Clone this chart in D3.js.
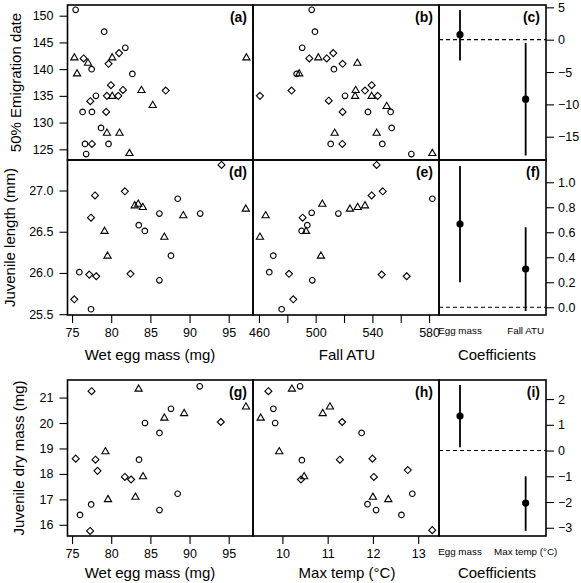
<!DOCTYPE html>
<html><head><meta charset="utf-8">
<script src="https://cdn.jsdelivr.net/npm/d3@7"></script>
<style>
body{margin:0;background:#fff;}
text{font-family:"Liberation Sans",Arial,Helvetica,sans-serif;fill:#000;}
</style></head><body>
<svg id="chart" width="581" height="583"></svg>
<script>
// ---------- DATA ----------
// (a) Wet egg mass vs 50% emigration date
const aCircle = [[75.46,151.1],[79.1,147.0],[81.8,144.0],[82.7,139.1],[77.5,140.0],[78.05,135.0],[76.35,132.0],[77.54,132.0],[78.7,129.0],[76.65,126.0],[79.66,126.0],[76.8,124.1]];
const aDiamond = [[76.48,142.0],[79.66,141.0],[81.0,143.0],[79.96,137.0],[81.5,136.1],[77.33,134.0],[79.45,135.0],[80.9,135.0],[79.36,132.0],[77.54,126.0],[86.96,136.0]];
const aTriangle = [[75.3,142.2],[75.64,139.2],[77.04,141.2],[80.13,142.2],[80.13,135.0],[83.86,136.1],[85.3,133.3],[79.45,128.1],[81.06,128.1],[82.33,124.3],[97.26,142.2]];
// (b) Fall ATU vs 50% emigration date
const bCircle = [[497.2,151.1],[499.5,147.0],[490.5,144.0],[512.9,140.0],[486.6,139.1],[520.7,135.0],[536.9,132.0],[552.9,132.0],[553.6,129.0],[510.6,126.0],[547.0,126.0],[567.5,124.1]];
const bDiamond = [[495.5,142.0],[507.8,142.0],[512.4,143.0],[519.0,141.0],[460.7,135.0],[483.0,136.0],[509.2,134.1],[519.0,132.0],[534.8,136.0],[539.5,137.0],[543.8,135.0],[518.8,126.0]];
const bTriangle = [[501.9,142.2],[488.4,139.2],[529.4,141.2],[528.2,136.1],[527.8,135.0],[539.5,135.0],[550.1,133.1],[513.4,128.1],[543.0,128.1],[582.3,124.3]];
// (c) coefficients
const cCats = ["Egg mass","Fall ATU"];
const cEst = [0.77,-9.2];
const cLo = [-3.2,-17.9];
const cHi = [4.6,-0.5];
// (d) Wet egg mass vs juvenile length
const dCircle = [[75.93,26.01],[77.42,25.56],[83.52,26.58],[84.29,26.51],[86.15,26.72],[88.49,26.90],[91.36,26.72],[87.63,26.21],[86.15,25.91]];
const dDiamond = [[94.08,27.31],[77.93,26.94],[77.42,26.67],[81.74,26.99],[82.46,25.99],[77.2,25.98],[78.09,25.96],[75.29,25.68]];
const dTriangle = [[83.0,26.82],[83.45,26.84],[84.03,26.80],[79.15,26.51],[79.53,26.21],[86.78,26.44],[89.2,26.70],[97.18,26.78]];
// (e) Fall ATU vs juvenile length
const eCircle = [[582.3,26.90],[497.2,26.73],[494.1,26.58],[490.1,26.51],[516.0,26.72],[470.1,26.21],[467.3,26.01],[497.6,25.91],[476.0,25.56]];
const eDiamond = [[543.0,27.31],[547.3,26.99],[539.5,26.94],[490.8,26.67],[481.2,25.99],[546.6,25.98],[564.2,25.96],[484.2,25.68]];
const eTriangle = [[464.7,26.70],[460.7,26.44],[504.7,26.84],[524.2,26.78],[529.6,26.80],[534.8,26.82],[493.2,26.51],[503.7,26.21]];
// (f) coefficients
const fCats = ["Egg mass","Fall ATU"];
const fEst = [0.666,0.306];
const fLo = [0.2,-0.03];
const fHi = [1.13,0.64];
// (g) Wet egg mass vs juvenile dry mass
const gCircle = [[91.3,21.44],[87.63,20.56],[84.31,20.0],[86.16,19.61],[83.55,18.56],[88.48,17.22],[86.16,16.58],[77.44,16.80],[76.01,16.39]];
const gDiamond = [[77.49,21.25],[75.47,18.60],[77.99,18.56],[78.25,18.12],[81.74,17.88],[82.54,17.78],[93.99,20.04],[77.31,15.76]];
const gTriangle = [[83.5,21.35],[86.79,20.21],[89.31,20.39],[97.2,20.65],[79.26,18.89],[84.06,17.91],[79.59,17.01],[83.09,17.10]];
// (h) Max temp vs juvenile dry mass
const hCircle = [[10.39,21.44],[9.80,20.56],[9.84,20.0],[11.75,19.61],[10.43,18.54],[12.87,17.22],[11.88,16.81],[12.07,16.58],[12.63,16.39]];
const hDiamond = [[9.69,21.25],[11.32,20.04],[11.27,18.56],[11.99,18.60],[12.77,18.15],[12.02,17.88],[10.41,17.78],[13.31,15.79]];
const hTriangle = [[10.21,21.35],[9.52,20.21],[10.89,20.39],[11.05,20.65],[9.93,18.89],[10.48,17.91],[12.0,17.10],[12.34,17.01]];
// (i) coefficients
const iCats = ["Egg mass","Max temp (°C)"];
const iEst = [1.34,-2.04];
const iLo = [0.13,-3.12];
const iHi = [2.55,-1.0];
// tick values
const wetTicks = [75,80,85,90,95];
const atuTicks = [460,480,500,520,540,560,580];
const atuLabels = [460,500,540,580];
const tempTicks = [10,11,12,13];
const emigTicks = [125,130,135,140,145,150];
const lenTicks = [25.5,26.0,26.5,27.0];
const dryTicks = [16,17,18,19,20,21];
const cTicks = [5,0,-5,-10,-15];
const fTicks = [0,0.2,0.4,0.6,0.8,1.0];
const iTicks = [2,1,0,-1,-2,-3];

// ---------- LAYOUT ----------
const X0=67.5, X1=253, X2=439, X3=546;
const R1=[5,160], R2=[160,315], R3=[380,536];
const svg = d3.select("#chart");
svg.append("rect").attr("width",581).attr("height",583).attr("fill","#fff");

const xWet = d3.scaleLinear().domain([74.42,98.1]).range([X0,X1]);
const xATU = d3.scaleLinear().domain([455.8,587]).range([X1,X2]);
const xTemp = d3.scaleLinear().domain([9.35,13.46]).range([X1,X2]);
const xCoef = d3.scaleLinear().domain([0.68,2.31]).range([X2,X3]);
const yEmig = d3.scaleLinear().domain([123,152]).range([R1[1],R1[0]]);
const yLen = d3.scaleLinear().domain([25.49,27.37]).range([R2[1],R2[0]]);
const yDry = d3.scaleLinear().domain([15.56,21.69]).range([R3[1],R3[0]]);
const yC = d3.scaleLinear().domain([-18.6,5.36]).range([R1[1],R1[0]]);
const yF = d3.scaleLinear().domain([-0.062,1.178]).range([R2[1],R2[0]]);
const yI = d3.scaleLinear().domain([-3.32,2.74]).range([R3[1],R3[0]]);

const shapes = {
  circle: "M2.8,0A2.8,2.8,0,1,1,-2.8,0A2.8,2.8,0,1,1,2.8,0Z",
  diamond: "M0,-3.5L3.5,0L0,3.5L-3.5,0Z",
  triangle: "M0,-3.7L3.6,2.5L-3.6,2.5Z"
};
function pts(data, shape, xs, ys){
  svg.append("g").selectAll("path").data(data).join("path")
    .attr("d", shapes[shape])
    .attr("transform", d=>`translate(${xs(d[0])},${ys(d[1])})`)
    .attr("fill","none").attr("stroke","#000").attr("stroke-width",1.1);
}
function frame(xs, ys){
  const [a,b]=xs.range(), [c,d]=ys.range();
  svg.append("rect").attr("x",a).attr("y",d).attr("width",b-a).attr("height",c-d)
    .attr("fill","none").attr("stroke","#000").attr("stroke-width",1.6);
}
function label(txt, xs, ys, dx){
  svg.append("text").attr("x",xs.range()[1]-(dx||6)).attr("y",ys.range()[1]+17)
    .attr("text-anchor","end").attr("font-weight","bold").attr("font-size",14).text(txt);
}
function leftAxis(ys, ticks, fmt){
  const g = svg.append("g").attr("transform",`translate(${X0},0)`)
    .call(d3.axisLeft(ys).tickValues(ticks).tickFormat(fmt).tickSize(8).tickPadding(6));
  g.select(".domain").remove();
  g.selectAll("line").attr("stroke-width",1.1);
  g.selectAll("text").attr("font-size",12.5).attr("font-family","Liberation Sans, Arial, sans-serif");
}
function rightAxis(ys, ticks, fmt){
  const g = svg.append("g").attr("transform",`translate(${X3},0)`)
    .call(d3.axisRight(ys).tickValues(ticks).tickFormat(fmt).tickSize(8).tickPadding(4));
  g.select(".domain").remove();
  g.selectAll("line").attr("stroke-width",1.1);
  g.selectAll("text").attr("font-size",12.5).attr("font-family","Liberation Sans, Arial, sans-serif");
}
function bottomAxis(xs, ticks, y, labelsOnly){
  const g = svg.append("g").attr("transform",`translate(0,${y})`)
    .call(d3.axisBottom(xs).tickValues(ticks)
      .tickFormat(v => (!labelsOnly || labelsOnly.includes(v)) ? d3.format("d")(v) : "")
      .tickSize(8).tickPadding(5));
  g.select(".domain").remove();
  g.selectAll("line").attr("stroke-width",1.1);
  g.selectAll("text").attr("font-size",12.5).attr("font-family","Liberation Sans, Arial, sans-serif");
}
const minusFmt = v => (v<0 ? "\u2212"+Math.abs(v) : String(v));
function coef(cats, est, lo, hi, ys, labY){
  svg.append("line").attr("x1",X2).attr("x2",X3).attr("y1",ys(0)).attr("y2",ys(0))
    .attr("stroke","#000").attr("stroke-width",1.1).attr("stroke-dasharray","4,3");
  const idx = cats.map((c,i)=>i);
  svg.append("g").selectAll("line").data(idx).join("line")
    .attr("x1",i=>xCoef(i+1)).attr("x2",i=>xCoef(i+1))
    .attr("y1",i=>ys(lo[i])).attr("y2",i=>ys(hi[i]))
    .attr("stroke","#000").attr("stroke-width",1.8);
  svg.append("g").selectAll("circle").data(idx).join("circle")
    .attr("cx",i=>xCoef(i+1)).attr("cy",i=>ys(est[i])).attr("r",3.6).attr("fill","#000");
  if(labY != null){
    svg.append("g").selectAll("text").data(idx).join("text")
      .attr("x",i=>xCoef(i+1)).attr("y",labY).attr("text-anchor","middle")
      .attr("font-size",9.8).text(i=>cats[i]);
  }
}
function title(txt, x, y, rot){
  const t = svg.append("text").attr("font-size",15).attr("text-anchor","middle").text(txt);
  if(rot) t.attr("transform",`translate(${x},${y}) rotate(-90)`);
  else t.attr("x",x).attr("y",y);
}

// ---------- ROW 1 ----------
pts(aCircle,"circle",xWet,yEmig); pts(aDiamond,"diamond",xWet,yEmig); pts(aTriangle,"triangle",xWet,yEmig);
pts(bCircle,"circle",xATU,yEmig); pts(bDiamond,"diamond",xATU,yEmig); pts(bTriangle,"triangle",xATU,yEmig);
coef(cCats,cEst,cLo,cHi,yC,null);
frame(xWet,yEmig); frame(xATU,yEmig); frame(xCoef,yC);
leftAxis(yEmig, emigTicks, d3.format("d"));
rightAxis(yC, cTicks, minusFmt);
label("(a)",xWet,yEmig); label("(b)",xATU,yEmig); label("(c)",xCoef,yC);
title("50% Emigration date", 21, 82.5, true);

// ---------- ROW 2 ----------
pts(dCircle,"circle",xWet,yLen); pts(dDiamond,"diamond",xWet,yLen); pts(dTriangle,"triangle",xWet,yLen);
pts(eCircle,"circle",xATU,yLen); pts(eDiamond,"diamond",xATU,yLen); pts(eTriangle,"triangle",xATU,yLen);
coef(fCats,fEst,fLo,fHi,yF,334);
frame(xWet,yLen); frame(xATU,yLen); frame(xCoef,yF);
leftAxis(yLen, lenTicks, d3.format(".1f"));
rightAxis(yF, fTicks, d3.format(".1f"));
bottomAxis(xWet, wetTicks, R2[1]);
bottomAxis(xATU, atuTicks, R2[1], atuLabels);
label("(d)",xWet,yLen); label("(e)",xATU,yLen); label("(f)",xCoef,yF);
title("Juvenile length (mm)", 15, 237.5, true);
title("Wet egg mass (mg)", 150, 360);
title("Fall ATU", 347, 360);
title("Coefficients", 497, 360);

// ---------- ROW 3 ----------
pts(gCircle,"circle",xWet,yDry); pts(gDiamond,"diamond",xWet,yDry); pts(gTriangle,"triangle",xWet,yDry);
pts(hCircle,"circle",xTemp,yDry); pts(hDiamond,"diamond",xTemp,yDry); pts(hTriangle,"triangle",xTemp,yDry);
coef(iCats,iEst,iLo,iHi,yI,555);
frame(xWet,yDry); frame(xTemp,yDry); frame(xCoef,yI);
leftAxis(yDry, dryTicks, d3.format("d"));
rightAxis(yI, iTicks, minusFmt);
bottomAxis(xWet, wetTicks, R3[1]);
bottomAxis(xTemp, tempTicks, R3[1]);
label("(g)",xWet,yDry); label("(h)",xTemp,yDry); label("(i)",xCoef,yI);
title("Juvenile dry mass (mg)", 24, 458, true);
title("Wet egg mass (mg)", 150, 578);
title("Max temp (°C)", 347, 578);
title("Coefficients", 497, 578);
</script>
</body></html>
